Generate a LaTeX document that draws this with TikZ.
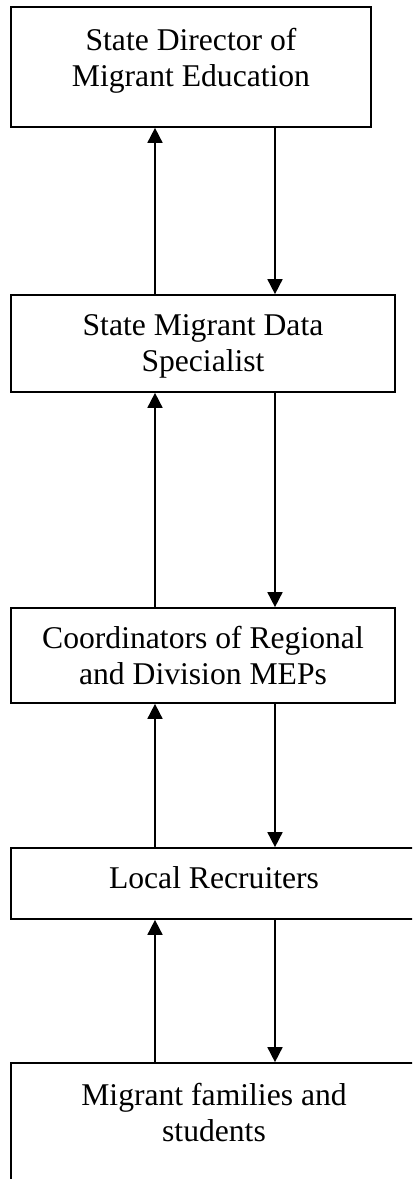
\documentclass[tikz,border=0pt]{standalone}
\usepackage{fontspec}
\setmainfont{Liberation Serif}
\usetikzlibrary{arrows.meta,positioning}

\begin{document}
\begin{tikzpicture}[>={Triangle[width=0.375cm,length=0.375cm]}, line width=1.2pt]
        \path[use as bounding box, clip] (0,0) rectangle (10.3,-29.475);
        \begin{scope}[every node/.style={rectangle,draw=black,line width=1.2pt,inner sep=0pt}]
            \node (dir) [minimum width=9cm, minimum height=3cm] at (4.775,-1.675) {};
            \node (spec) [minimum width=9.6cm, minimum height=2.425cm] at (5.075,-8.5875) {};
            \node (coord) [minimum width=9.6cm, minimum height=2.375cm] at (5.075,-16.3875) {};
            \node (rec) [minimum width=10.15cm, minimum height=1.775cm] at (5.35,-22.0875) {};
            \node (fam) [minimum width=10.15cm, minimum height=3.925cm] at (5.35,-28.5375) {};
        \end{scope}
        \begin{scope}[every node/.style={align=center,inner sep=0pt,font=\fontsize{22.5}{25.6}\selectfont}]
            \node (dirT) [below=0.53 of dir.north] {State Director of\\Migrant Education};
            \node (specT) [below=0.48 of spec.north] {State Migrant Data\\Specialist};
            \node (coordT) [below=0.46 of coord.north] {Coordinators of Regional\\and Division MEPs};
            \node (recT) [below=0.46 of rec.north] {Local Recruiters};
            \node (famT) [below=0.51 of fam.north] {Migrant families and\\students};
        \end{scope}

        % up arrows on the left, down arrows on the right
        \coordinate (up) at (3.875,0);
        \coordinate (dn) at (6.875,0);
        \draw [->] (spec.north -| up) -- (dir.south -| up);
        \draw [->] (dir.south -| dn) -- (spec.north -| dn);
        \draw [->] (coord.north -| up) -- (spec.south -| up);
        \draw [->] (spec.south -| dn) -- (coord.north -| dn);
        \draw [->] (rec.north -| up) -- (coord.south -| up);
        \draw [->] (coord.south -| dn) -- (rec.north -| dn);
        \draw [->] (fam.north -| up) -- (rec.south -| up);
        \draw [->] (rec.south -| dn) -- (fam.north -| dn);
\end{tikzpicture}
\end{document}
